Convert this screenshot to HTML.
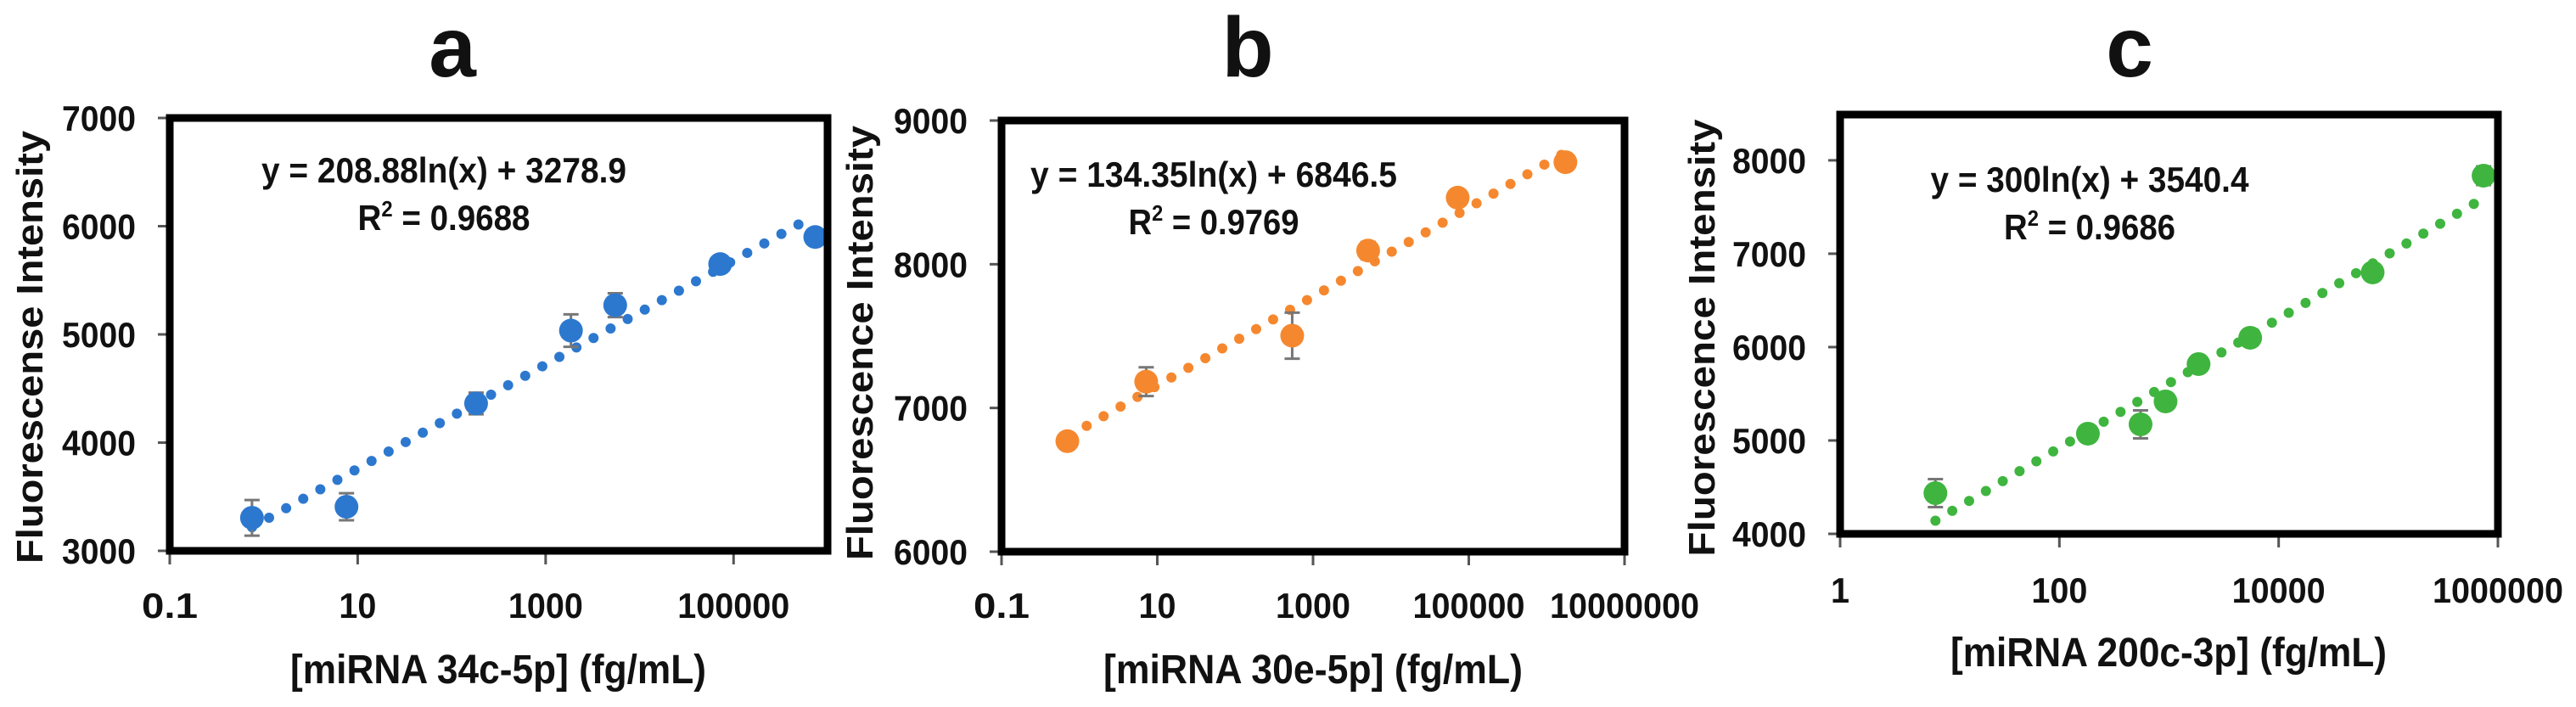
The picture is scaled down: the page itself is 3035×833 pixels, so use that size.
<!DOCTYPE html>
<html><head><meta charset="utf-8">
<style>
html,body{margin:0;padding:0;background:#fff;}
svg{display:block;font-family:"Liberation Sans",Arial,sans-serif;font-weight:bold;}
</style></head>
<body>
<svg id="fig" width="3035" height="833" viewBox="0 0 3035 833" xmlns="http://www.w3.org/2000/svg"></svg>
<script>
// Panel a data
const aX = [0.75, 7.6, 182, 1860, 5500, 72000, 740000];
const aY = [3305, 3407, 4362, 5035, 5270, 5650, 5900];
const aErr = [165, 125, 100, 150, 110, 60, 60];
const aFit = [208.88, 3278.9];
const aYTicks = [3000, 4000, 5000, 6000, 7000];
const aXTicks = ["0.1", "10", "1000", "100000"];
// Panel b data
const bX = [0.7, 7.2, 540, 5100, 72000, 1740000];
const bY = [6769, 7183, 7503, 8095, 8463, 8710];
const bErr = [40, 100, 160, 60, 50, 40];
const bFit = [134.35, 6846.5];
const bYTicks = [6000, 7000, 8000, 9000];
const bXTicks = ["0.1", "10", "1000", "100000", "10000000"];
// Panel c data
const cX = [7.4, 182, 550, 930, 1860, 5500, 72000, 740000];
const cY = [4436, 5073, 5173, 5418, 5818, 6100, 6800, 7836];
const cErr = [150, 60, 150, 80, 60, 60, 60, 100];
const cFit = [300, 3540.4];
const cYTicks = [4000, 5000, 6000, 7000, 8000];
const cXTicks = ["1", "100", "10000", "1000000"];

const NS = "http://www.w3.org/2000/svg";
const svg = document.getElementById("fig");
function mk(tag, attrs, parent, txt){
  const e = document.createElementNS(NS, tag);
  for (const k in attrs) e.setAttribute(k, attrs[k]);
  if (txt !== undefined) e.textContent = txt;
  (parent || svg).appendChild(e);
  return e;
}

const panels = [
  {id:"a", xs:aX, ys:aY, err:aErr, fit:aFit, yt:aYTicks, xt:aXTicks, color:"#2d78cf",
   L:200, R:975, T:139, B:649, lx0:-1, lx1:6, y0:3000, y1:7000,
   title:"a", tx:533, eqx:523, eqy:215, eqw:430, rw:203, xtY:728, xtitleX:587, xtitleY:805, xtitleW:490,
   ytitle:"Fluorescense Intensity", ytX:50, ytY:409, ytW:510, fitFrom:0.75, fitTo:560000,
   eq:"y = 208.88ln(x) + 3278.9", r2:"0.9688", xtitle:"[miRNA 34c-5p] (fg/mL)"},
  {id:"b", xs:bX, ys:bY, err:bErr, fit:bFit, yt:bYTicks, xt:bXTicks, color:"#f5882f",
   L:1180, R:1914, T:142, B:650, lx0:-1, lx1:7, y0:6000, y1:9000,
   title:"b", tx:1470, eqx:1430, eqy:220, eqw:432, rw:201, xtY:728, xtitleX:1547, xtitleY:805, xtitleW:494,
   ytitle:"Fluorescence Intensity", ytX:1028, ytY:404, ytW:512, fitFrom:0.75, fitTo:1600000,
   eq:"y = 134.35ln(x) + 6846.5", r2:"0.9769", xtitle:"[miRNA 30e-5p] (fg/mL)"},
  {id:"c", xs:cX, ys:cY, err:cErr, fit:cFit, yt:cYTicks, xt:cXTicks, color:"#3fb53f",
   L:2168, R:2943, T:135, B:629, lx0:0, lx1:6, y0:4000, y1:8490,
   title:"c", tx:2509, eqx:2462, eqy:226, eqw:375, rw:202, xtY:710, xtitleX:2555, xtitleY:785, xtitleW:514,
   ytitle:"Fluorescence Intensity", ytX:2020, ytY:398, ytW:515, fitFrom:7.4, fitTo:750000,
   eq:"y = 300ln(x) + 3540.4", r2:"0.9686", xtitle:"[miRNA 200c-3p] (fg/mL)"}
];

panels.forEach(p => {
  const g = mk("g", {});
  
  
  const sx = v => p.L + (Math.log10(v) - p.lx0) / (p.lx1 - p.lx0) * (p.R - p.L);
  const sy = v => p.B - (v - p.y0) / (p.y1 - p.y0) * (p.B - p.T);

  const t = mk("text", {x:p.tx, y:90, "font-size":100, "text-anchor":"middle", fill:"#111"}, g, p.title);
  
  

  // y ticks
  p.yt.forEach(v => {
    const y = sy(v);
    const tk = mk("line", {x1:p.L-14, x2:p.L, y1:y, y2:y, stroke:"#555", "stroke-width":3}, g);
    
    
    const lb = mk("text", {x:p.L-40, y:y+15, "font-size":42, "text-anchor":"end", fill:"#111", textLength:87, lengthAdjust:"spacingAndGlyphs"}, g, String(v));
    
    
  });
  // x ticks
  const nx = p.xt.length;
  p.xt.forEach((s, i) => {
    const x = sx(parseFloat(s));
    const tk = mk("line", {x1:x, x2:x, y1:p.B, y2:p.B+16, stroke:"#555", "stroke-width":3}, g);
    
    
    const lb = mk("text", {x:x, y:p.xtY, "font-size":42, "text-anchor":"middle", fill:"#111", textLength:s.length*22, lengthAdjust:"spacingAndGlyphs"}, g, s);
    
    
  });

  // trend line
  let d = "";
  const n = 200;
  const la = Math.log10(p.fitFrom), lb2 = Math.log10(p.fitTo);
  for (let i = 0; i <= n; i++) {
    const xv = Math.pow(10, la + (lb2 - la) * i / n);
    const yv = p.fit[0] * Math.log(xv) + p.fit[1];
    d += (i ? "L" : "M") + sx(xv).toFixed(1) + "," + sy(yv).toFixed(1);
  }
  const tr = mk("path", {d:d, fill:"none", stroke:p.color, "stroke-width":12, "stroke-linecap":"round", "stroke-dasharray":"0 23"}, g);
  
  

  // points
  p.xs.forEach((xv, i) => {
    const cx = sx(xv), cy = sy(p.ys[i]);
    const e1 = sy(p.ys[i] + p.err[i]), e2 = sy(p.ys[i] - p.err[i]);
    const eb = mk("path", {d:`M${cx},${e1}V${e2}M${cx-9},${e1}H${cx+9}M${cx-9},${e2}H${cx+9}`, stroke:"#777", "stroke-width":3, fill:"none"}, g);
    
    
    const c = mk("circle", {cx:cx, cy:cy, r:14, fill:p.color}, g);
    
    
  });

  // box
  const bx = mk("rect", {x:p.L, y:p.T, width:p.R-p.L, height:p.B-p.T, fill:"none", stroke:"#000", "stroke-width":9}, g);
  
  

  // equation
  const eq = mk("text", {x:p.eqx, y:p.eqy, "font-size":42, "text-anchor":"middle", fill:"#111", textLength:p.eqw, lengthAdjust:"spacingAndGlyphs"}, g, p.eq);
  
  
  const r2 = mk("text", {x:p.eqx, y:p.eqy+56, "font-size":42, "text-anchor":"middle", fill:"#111", textLength:p.rw, lengthAdjust:"spacingAndGlyphs"}, g);
  
  
  r2.innerHTML = 'R<tspan font-size="26" dy="-16">2</tspan><tspan dy="16"> = ' + p.r2 + '</tspan>';

  // axis titles
  const xt = mk("text", {x:p.xtitleX, y:p.xtitleY, "font-size":48, "text-anchor":"middle", fill:"#111", textLength:p.xtitleW, lengthAdjust:"spacingAndGlyphs"}, g, p.xtitle);
  
  
  const yt = mk("text", {x:0, y:0, "font-size":44, "text-anchor":"middle", fill:"#111", textLength:p.ytW, lengthAdjust:"spacingAndGlyphs", transform:`translate(${p.ytX},${p.ytY}) rotate(-90)`}, g, p.ytitle);
  
  
});
</script>
</body></html>
